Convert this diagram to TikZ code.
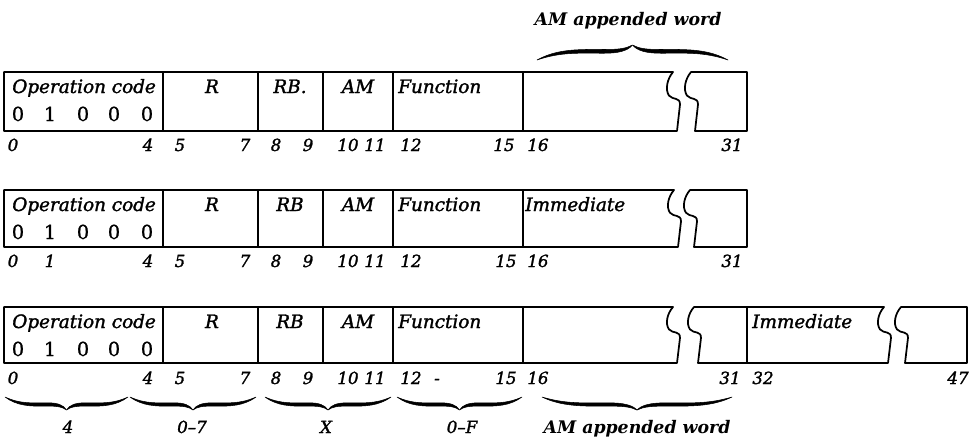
\documentclass[tikz,border=0pt]{standalone}
\usepackage{fontspec}
\setmainfont{DejaVu Serif}
\newfontface\heavyit[FakeBold=1.6,Ligatures=TeX]{DejaVu Serif Italic}
\newfontface\heavyup[FakeBold=0.8,Ligatures=TeX]{DejaVu Serif}
\newcommand\brkdown[3]{.. controls ({#1-6},{#2+0.12*(#3-#2)}) and ({#1-8},{#2+0.3*(#3-#2)}) .. ({#1-4},{#2+0.4*(#3-#2)}) .. controls ({#1},{#2+0.48*(#3-#2)}) and ({#1+7},{#2+0.42*(#3-#2)}) .. ({#1+7},{#2+0.55*(#3-#2)}) -- ({#1+4},#3)}
\newcommand\brkup[3]{-- ({#1+7},{#2+0.55*(#3-#2)}) .. controls ({#1+7},{#2+0.42*(#3-#2)}) and ({#1},{#2+0.48*(#3-#2)}) .. ({#1-4},{#2+0.4*(#3-#2)}) .. controls ({#1-8},{#2+0.3*(#3-#2)}) and ({#1-6},{#2+0.12*(#3-#2)}) .. (#1,#2)}
\newcommand\halfbrace{(0,0) .. controls (0.25,0.55) and (0.45,0.45) .. (0.7,0.45) .. controls (0.85,0.45) and (0.95,0.6) .. (1,1) .. controls (0.93,0.75) and (0.85,0.7) .. (0.7,0.7) .. controls (0.4,0.72) and (0.2,0.7) .. (0,0) -- cycle}
\newcommand\calbrace[4]{%
  \pgfmathsetmacro\bm{(#1+#2)/2}%
  \filldraw[bracefill, shift={(#1,#3)}, xscale={\bm-#1}, yscale=#4] \halfbrace;
  \filldraw[bracefill, shift={(#2,#3)}, xscale={\bm-#2}, yscale=#4] \halfbrace;
}
\tikzset{
  box/.style={line width=1.3pt, line join=round},
  bracefill/.style={fill=black, draw=black, line width=0.4pt, line join=round},
  fname/.style={font=\fontsize{13.8}{16}\heavyit, anchor=base, inner sep=0pt},
  fnamew/.style={fname, anchor=base west},
  bitv/.style={font=\fontsize{14.5}{17}\heavyup, anchor=base, inner sep=0pt},
  bitl/.style={font=\fontsize{12.5}{14}\heavyit, anchor=base, inner sep=0pt},
  blab/.style={font=\fontsize{13}{15}\bfseries\itshape, anchor=base, inner sep=0pt},
}
\begin{document}
\begin{tikzpicture}[x=0.75pt,y=-0.75pt]
\useasboundingbox (0,0) rectangle (969,439);

% ---------- Row 1 ----------
\draw[box] (673,72) \brkdown{673}{72}{131} -- (4,131) -- (4,72) -- cycle;
\draw[box] (691,72) \brkdown{691}{72}{131} -- (747,131) -- (747,72) -- cycle;
\foreach \x in {163,258,323,393,523} \draw[box] (\x,72) -- (\x,131);
\node[fnamew] (r1op) at (12,93) {Operation code};
\foreach \x/\d [count=\i] in {18/0,50/1,83/0,114/0,147/0} \node[bitv] (r1d\i) at (\x,121) {\d};
\node[fname] (r1r) at (212,93) {R};
\node[fname] (r1rb) at (290,93) {RB.};
\node[fname] (r1am) at (358,93) {AM};
\node[fnamew] (r1fn) at (398,93) {Function};
\foreach \x/\d [count=\i] in {13/0,148/4,180/5,245/7,276/8,308/9,348/10,375/11,411/12,504/15,538/16,732/31}
  \node[bitl] (r1b\i) at (\x,151) {\d};
\calbrace{537}{728}{60}{-15}
\node[blab] (r1app) at (628,25) {AM appended word};

% ---------- Row 2 ----------
\draw[box] (674,190) \brkdown{674}{190}{247} -- (4,247) -- (4,190) -- cycle;
\draw[box] (690,190) \brkdown{690}{190}{247} -- (747,247) -- (747,190) -- cycle;
\foreach \x in {163,258,323,393,523} \draw[box] (\x,190) -- (\x,247);
\node[fnamew] (r2op) at (12,211) {Operation code};
\foreach \x/\d [count=\i] in {18/0,50/1,83/0,114/0,147/0} \node[bitv] (r2d\i) at (\x,239) {\d};
\node[fname] (r2r) at (212,211) {R};
\node[fname] (r2rb) at (290,211) {RB};
\node[fname] (r2am) at (358,211) {AM};
\node[fnamew] (r2fn) at (398,211) {Function};
\node[fnamew] (r2im) at (525,211) {Immediate};
\foreach \x/\d [count=\i] in {13/0,50/1,148/4,180/5,245/7,276/8,308/9,348/10,375/11,411/12,506/15,538/16,732/31}
  \node[bitl] (r2b\i) at (\x,267) {\d};

% ---------- Row 3 ----------
\draw[box] (673,307) \brkdown{673}{307}{363} -- (4,363) -- (4,307) -- cycle;
\draw[box] (694,307) \brkdown{694}{307}{363} -- (888,363) \brkup{884}{307}{363} -- cycle;
\draw[box] (901,307) \brkdown{901}{307}{363} -- (967,363) -- (967,307) -- cycle;
\foreach \x in {163,258,323,393,523,747} \draw[box] (\x,307) -- (\x,363);
\node[fnamew] (r3op) at (12,328) {Operation code};
\foreach \x/\d [count=\i] in {18/0,50/1,83/0,114/0,147/0} \node[bitv] (r3d\i) at (\x,356) {\d};
\node[fname] (r3r) at (212,328) {R};
\node[fname] (r3rb) at (290,328) {RB};
\node[fname] (r3am) at (358,328) {AM};
\node[fnamew] (r3fn) at (398,328) {Function};
\node[fnamew] (r3im) at (752,328) {Immediate};
\foreach \x/\d [count=\i] in {13/0,148/4,180/5,245/7,276/8,308/9,348/10,375/11,411/12,437/-,506/15,538/16,730/31,763/32,958/47}
  \node[bitl] (r3b\i) at (\x,384) {\d};
\calbrace{5}{128}{397}{13}
\calbrace{130}{256}{397}{13}
\calbrace{265}{391}{397}{13}
\calbrace{397}{522}{397}{13}
\calbrace{542}{732}{397}{13}
\node[bitl] (g1) at (68,433) {4};
\node[bitl] (g2) at (192,433) {0–7};
\node[bitl] (g3) at (326,433) {X};
\node[bitl] (g4) at (462,433) {0–F};
\node[blab] (g5) at (637,433) {AM appended word};
\end{tikzpicture}
\end{document}
